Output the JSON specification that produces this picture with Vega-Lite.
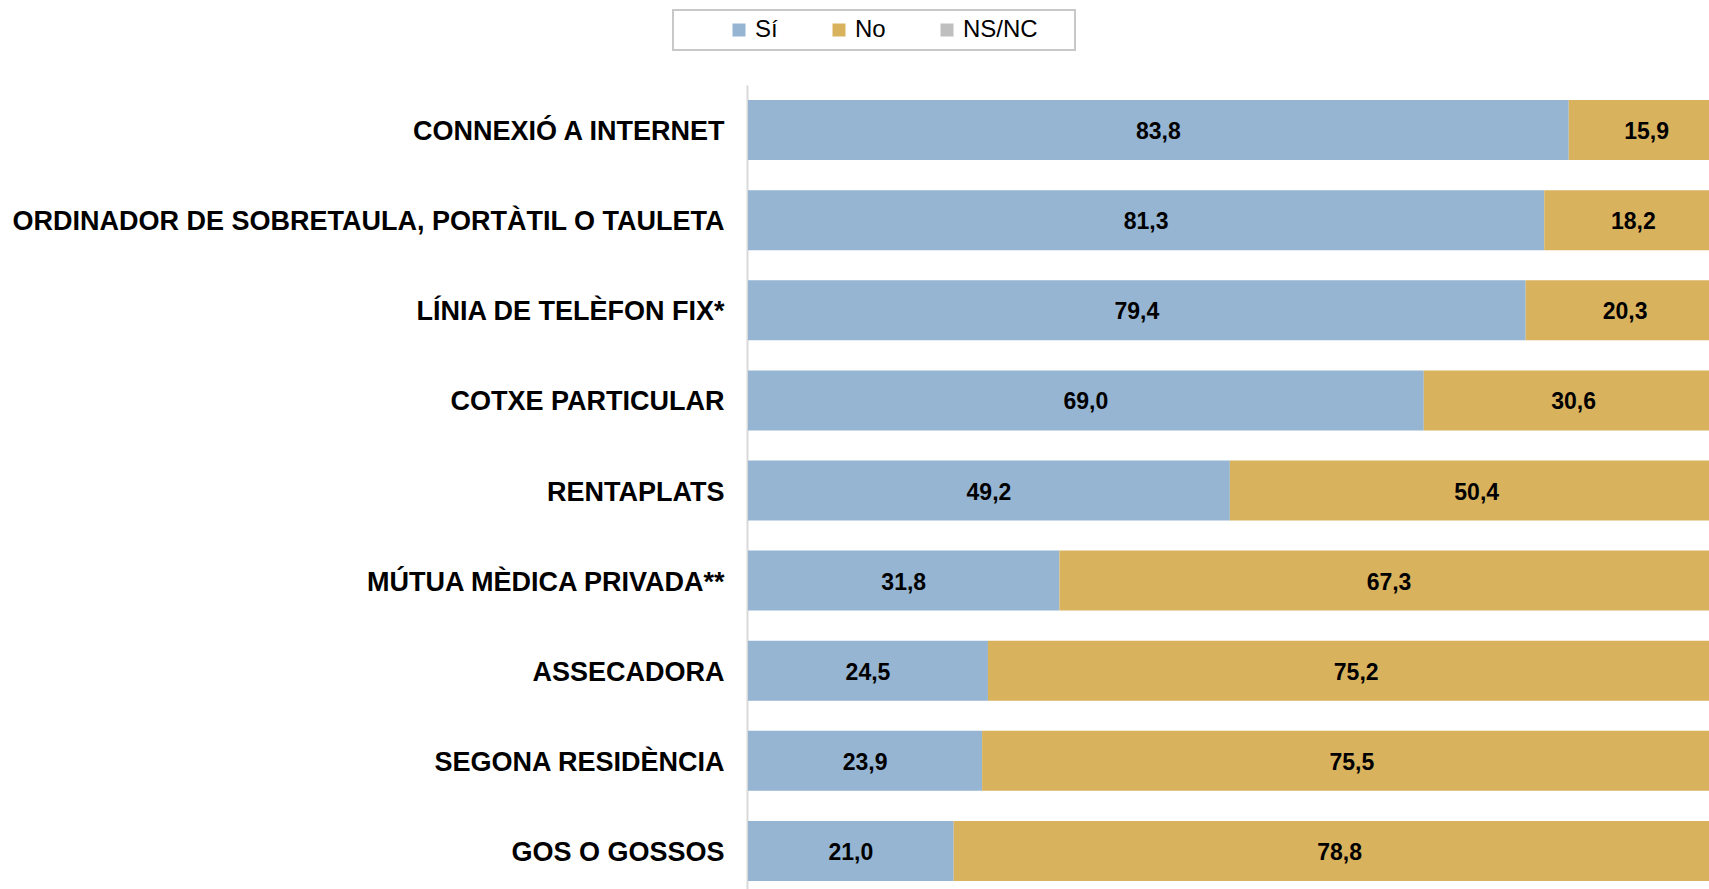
{
  "$schema": "https://vega.github.io/schema/vega-lite/v6.json",
  "autosize": {"type": "none"},
  "padding": {"left": 748, "top": 85, "right": 0, "bottom": 0},
  "width": 961,
  "height": 804,
  "background": "white",
  "config": {
    "view": {"stroke": null},
    "locale": {"number": {"decimal": ",", "thousands": ".", "grouping": [3], "currency": ["", " €"]}},
    "font": "Liberation Sans",
    "legend": {"strokeWidth": 2}
  },
  "data": {
    "values": [
      {"item": "CONNEXIÓ A INTERNET", "resp": "Sí", "ord": 1, "val": 83.8},
      {"item": "CONNEXIÓ A INTERNET", "resp": "No", "ord": 2, "val": 15.9},
      {"item": "CONNEXIÓ A INTERNET", "resp": "NS/NC", "ord": 3, "val": 0.3},
      {"item": "ORDINADOR DE SOBRETAULA, PORTÀTIL O TAULETA", "resp": "Sí", "ord": 1, "val": 81.3},
      {"item": "ORDINADOR DE SOBRETAULA, PORTÀTIL O TAULETA", "resp": "No", "ord": 2, "val": 18.2},
      {"item": "ORDINADOR DE SOBRETAULA, PORTÀTIL O TAULETA", "resp": "NS/NC", "ord": 3, "val": 0.5},
      {"item": "LÍNIA DE TELÈFON FIX*", "resp": "Sí", "ord": 1, "val": 79.4},
      {"item": "LÍNIA DE TELÈFON FIX*", "resp": "No", "ord": 2, "val": 20.3},
      {"item": "LÍNIA DE TELÈFON FIX*", "resp": "NS/NC", "ord": 3, "val": 0.3},
      {"item": "COTXE PARTICULAR", "resp": "Sí", "ord": 1, "val": 69.0},
      {"item": "COTXE PARTICULAR", "resp": "No", "ord": 2, "val": 30.6},
      {"item": "COTXE PARTICULAR", "resp": "NS/NC", "ord": 3, "val": 0.4},
      {"item": "RENTAPLATS", "resp": "Sí", "ord": 1, "val": 49.2},
      {"item": "RENTAPLATS", "resp": "No", "ord": 2, "val": 50.4},
      {"item": "RENTAPLATS", "resp": "NS/NC", "ord": 3, "val": 0.4},
      {"item": "MÚTUA MÈDICA PRIVADA**", "resp": "Sí", "ord": 1, "val": 31.8},
      {"item": "MÚTUA MÈDICA PRIVADA**", "resp": "No", "ord": 2, "val": 67.3},
      {"item": "MÚTUA MÈDICA PRIVADA**", "resp": "NS/NC", "ord": 3, "val": 0.9},
      {"item": "ASSECADORA", "resp": "Sí", "ord": 1, "val": 24.5},
      {"item": "ASSECADORA", "resp": "No", "ord": 2, "val": 75.2},
      {"item": "ASSECADORA", "resp": "NS/NC", "ord": 3, "val": 0.3},
      {"item": "SEGONA RESIDÈNCIA", "resp": "Sí", "ord": 1, "val": 23.9},
      {"item": "SEGONA RESIDÈNCIA", "resp": "No", "ord": 2, "val": 75.5},
      {"item": "SEGONA RESIDÈNCIA", "resp": "NS/NC", "ord": 3, "val": 0.6},
      {"item": "GOS O GOSSOS", "resp": "Sí", "ord": 1, "val": 21.0},
      {"item": "GOS O GOSSOS", "resp": "No", "ord": 2, "val": 78.8},
      {"item": "GOS O GOSSOS", "resp": "NS/NC", "ord": 3, "val": 0.2}
    ]
  },
  "transform": [
    {"stack": "val", "groupby": ["item"], "sort": [{"field": "ord", "order": "ascending"}], "as": ["v0", "v1"]},
    {"calculate": "(datum.v0 + datum.v1) / 2", "as": "mid"}
  ],
  "encoding": {
    "y": {
      "field": "item",
      "type": "nominal",
      "sort": null,
      "scale": {"range": [0, 811], "paddingInner": 0.334, "paddingOuter": 0.167},
      "axis": {
        "title": null,
        "ticks": false,
        "tickSize": 0,
        "labelPadding": 23,
        "offset": 1,
        "domainColor": "#d9d9d9",
        "domainWidth": 2,
        "labelFont": "Liberation Sans",
        "labelFontSize": 27,
        "labelFontWeight": "bold",
        "labelColor": "#000000",
        "labelLimit": 1000,
        "labelOffset": 2
      }
    }
  },
  "layer": [
    {
      "mark": {"type": "bar", "clip": true},
      "encoding": {
        "x": {"field": "v0", "type": "quantitative", "scale": {"domain": [0, 100], "range": [0, 979.4], "nice": false, "zero": true}, "axis": null},
        "x2": {"field": "v1"},
        "color": {
          "field": "resp",
          "type": "nominal",
          "sort": ["Sí", "No", "NS/NC"],
          "scale": {"domain": ["Sí", "No", "NS/NC"], "range": ["#95b5d3", "#d9b25e", "#bfbfbf"]},
          "legend": {
            "orient": "none",
            "legendX": -75,
            "legendY": -75,
            "direction": "horizontal",
            "title": " ",
            "titleOrient": "right",
            "titlePadding": 29,
            "titleFontSize": 10,
            "symbolType": "square",
            "symbolSize": 169,
            "symbolStrokeWidth": 0,
            "symbolOffset": 46,
            "labelFont": "Liberation Sans",
            "labelFontSize": 24,
            "labelColor": "#000000",
            "labelOffset": 4,
            "columnPadding": 3,
            "padding": 8,
            "strokeColor": "#c8c8c8",
            "fillColor": "white"
          }
        },
        "order": {"field": "ord", "type": "quantitative"}
      }
    },
    {
      "transform": [{"filter": "datum.resp !== 'NS/NC'"}],
      "mark": {"type": "text", "clip": true, "font": "Liberation Sans", "fontSize": 23, "fontWeight": "bold", "color": "#000000", "align": "center", "baseline": "middle", "dy": 2},
      "encoding": {
        "x": {"field": "mid", "type": "quantitative", "scale": {"domain": [0, 100], "range": [0, 979.4], "nice": false}, "axis": null},
        "text": {"field": "val", "type": "quantitative", "format": ".1f"}
      }
    }
  ]
}
